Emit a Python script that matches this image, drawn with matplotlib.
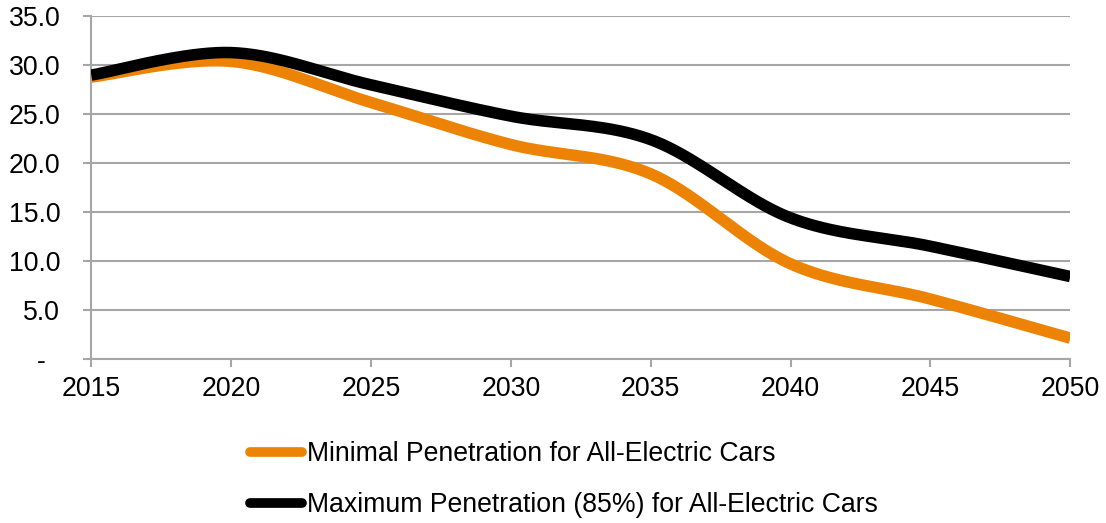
import numpy as np
import matplotlib
matplotlib.use("Agg")
import matplotlib.pyplot as plt

# Average values (index) for each scenario, every five years
years = [2015, 2020, 2025, 2030, 2035, 2040, 2045, 2050]
minimal_penetration = [28.8, 30.4, 26.2, 21.9, 18.9, 9.7, 6.1, 2.1]
maximum_penetration = [29.0, 31.3, 28.0, 24.8, 22.4, 14.4, 11.5, 8.4]

series_labels = [
    "Minimal Penetration for All-Electric Cars",
    "Maximum Penetration (85%) for All-Electric Cars",
]
series_colors = ["#EC8305", "#000000"]

y_ticks = [0, 5, 10, 15, 20, 25, 30, 35]
y_tick_labels = ["", "5.0", "10.0", "15.0", "20.0", "25.0", "30.0", "35.0"]
zero_label = "-"


def smooth(x, y, steps=40):
    """Cubic Bezier smoothing through every point (spreadsheet-style)."""
    x = np.asarray(x, float)
    y = np.asarray(y, float)
    px = np.concatenate([[x[0]], x, [x[-1]]])
    py = np.concatenate([[y[0]], y, [y[-1]]])
    out_x, out_y = [], []
    t = np.linspace(0, 1, steps)
    for i in range(1, len(px) - 2):
        p0 = np.array([px[i], py[i]])
        p3 = np.array([px[i + 1], py[i + 1]])
        c1 = p0 + (np.array([px[i + 1], py[i + 1]]) - np.array([px[i - 1], py[i - 1]])) / 6
        c2 = p3 - (np.array([px[i + 2], py[i + 2]]) - np.array([px[i], py[i]])) / 6
        b = ((1 - t) ** 3)[:, None] * p0 + (3 * (1 - t) ** 2 * t)[:, None] * c1 \
            + (3 * (1 - t) * t ** 2)[:, None] * c2 + (t ** 3)[:, None] * p3
        if i > 1:
            b = b[1:]
        out_x.extend(b[:, 0])
        out_y.extend(b[:, 1])
    return np.array(out_x), np.array(out_y)


plt.rcParams["font.family"] = ["Liberation Sans", "DejaVu Sans"]
FS = 19.2

fig = plt.figure(figsize=(11.06, 5.23), dpi=100)
ax = fig.add_axes([91.3 / 1106, 1 - 358.7 / 523, (1070.3 - 91.3) / 1106, (358.7 - 16.4) / 523])

grid_color = "#A6A6A6"
lines = []
for vals, col, lab in zip([minimal_penetration, maximum_penetration], series_colors, series_labels):
    sx, sy = smooth(years, vals)
    ln, = ax.plot(sx, sy, color=col, lw=8.3, solid_capstyle="butt", label=lab, zorder=3)
    lines.append(ln)

ax.set_xlim(years[0], years[-1])
ax.set_ylim(0, 35)
ax.set_xticks(years)
ax.set_xticklabels([str(y) for y in years])
ax.set_yticks(y_ticks)
ax.set_yticklabels(y_tick_labels)

ax.yaxis.grid(True, color=grid_color, lw=1.5)
ax.set_axisbelow(True)
for s in ["top", "right"]:
    ax.spines[s].set_visible(False)
for s in ["left", "bottom"]:
    ax.spines[s].set_color(grid_color)
    ax.spines[s].set_linewidth(1.5)

ax.tick_params(axis="both", direction="out", length=5.8, width=1.5, color=grid_color,
               labelsize=FS, labelcolor="#000000")
ax.tick_params(axis="y", pad=16.5)
ax.tick_params(axis="x", pad=6.5)

ax.text(41 / 1106, 1 - 362 / 523, zero_label, transform=fig.transFigure,
        ha="center", va="center", fontsize=FS)

leg = fig.legend(handles=lines, loc="upper left", bbox_to_anchor=(250 / 1106, 1 - 441 / 523),
                 frameon=False, fontsize=FS, handlelength=1.95, handletextpad=0.2,
                 borderpad=0, borderaxespad=0, labelspacing=0.95)
for h in leg.get_lines():
    h.set_solid_capstyle("round")
    h.set_linewidth(7)

fig.savefig("out.png", dpi=100)
